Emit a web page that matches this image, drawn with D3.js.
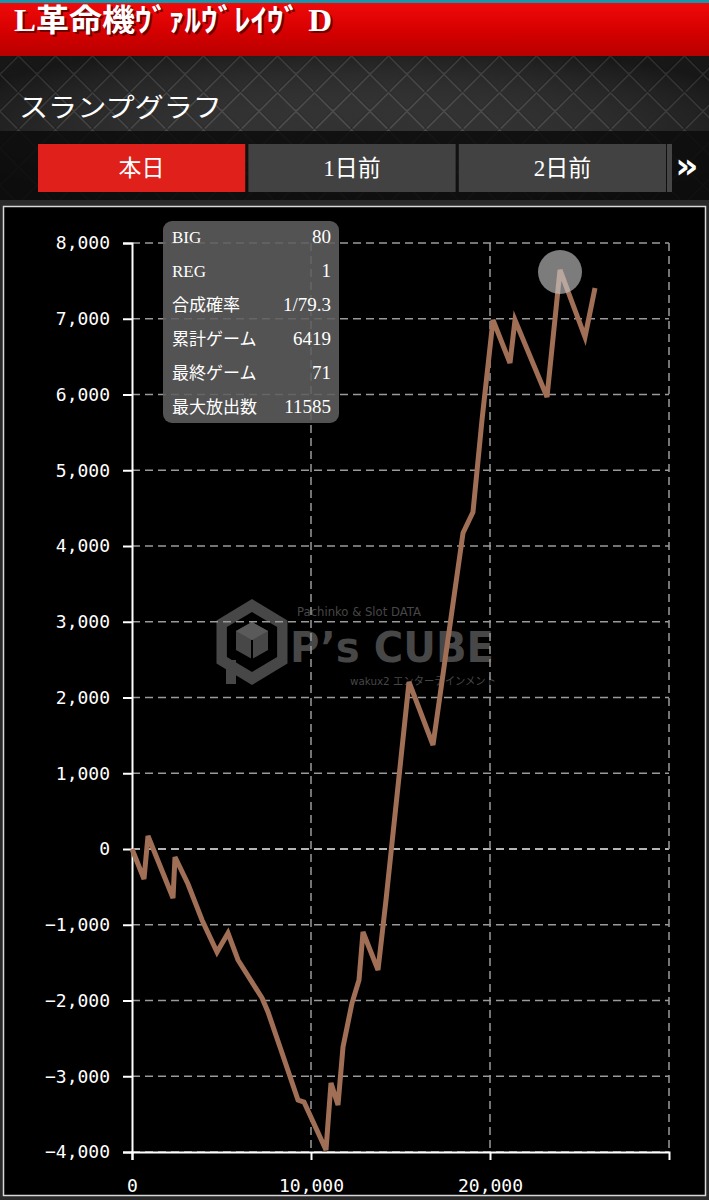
<!DOCTYPE html>
<html>
<head>
<meta charset="utf-8">
<script src="https://cdn.jsdelivr.net/npm/d3@7"></script>
<style>
body { margin: 0; background: #000; }
svg { display: block; }
</style>
</head>
<body>
<div id="graph"></div>
<script>
// slump data: games played vs. medal difference
var games = [0, 670, 894, 2291, 2402, 3128, 3911, 4749, 5363, 5922, 7263, 7598, 8268, 9274, 9609,
  10838, 11117, 11508, 11788, 12291, 12682, 12905, 13743, 14190, 15475, 16816, 18492, 19050,
  19553, 20168, 21117, 21397, 23184, 23911, 25307, 25866];
var diff = [0, -396, 172, -647, -106, -462, -937, -1360, -1109, -1465, -1967, -2152, -2614, -3314, -3340,
  -3974, -3089, -3380, -2614, -2033, -1729, -1096, -1597, -673, 2205, 1373, 4172, 4449,
  5663, 6983, 6416, 6983, 5967, 7644, 6759, 7406];

var xTicks = [0, 10000, 20000];
var yTicks = [-4000, -3000, -2000, -1000, 0, 1000, 2000, 3000, 4000, 5000, 6000, 7000, 8000];

var statLabels = ["BIG", "REG", "合成確率", "累計ゲーム", "最終ゲーム", "最大放出数"];
var statValues = ["80", "1", "1/79.3", "6419", "71", "11585"];

var tabs = ["本日", "1日前", "2日前"];
var title = "L革命機ｳﾞｧﾙｳﾞﾚｲｳﾞ D";
var subtitle = "スランプグラフ";

var width = 709, height = 1200;
var serif = "'Liberation Serif', 'DejaVu Serif', 'Noto Sans CJK JP', serif";
var mono = "'DejaVu Sans Mono', monospace";

var svg = d3.select("#graph").append("svg")
    .attr("width", width)
    .attr("height", height);

var defs = svg.append("defs");

// diamond plate texture for the header
var pat = defs.append("pattern")
    .attr("id", "plate")
    .attr("patternUnits", "userSpaceOnUse")
    .attr("width", 37).attr("height", 37);
pat.append("rect").attr("width", 37).attr("height", 37).attr("fill", "#1f1f1f");
pat.append("path")
    .attr("d", "M0,0L37,37M37,0L0,37")
    .attr("stroke", "#3b3b3b").attr("stroke-width", 2);
pat.append("path")
    .attr("d", "M1.5,0L37,35.5M35.5,0L0,35.5")
    .attr("stroke", "#101010").attr("stroke-width", 1);

var redGrad = defs.append("linearGradient")
    .attr("id", "red").attr("x1", 0).attr("y1", 0).attr("x2", 0).attr("y2", 1);
redGrad.append("stop").attr("offset", "0%").attr("stop-color", "#f00a0a");
redGrad.append("stop").attr("offset", "55%").attr("stop-color", "#d50000");
redGrad.append("stop").attr("offset", "100%").attr("stop-color", "#b80000");

var shine = defs.append("radialGradient").attr("id", "shine")
    .attr("cx", 0.5).attr("cy", 0.5).attr("r", 0.6);
shine.append("stop").attr("offset", "0%").attr("stop-color", "#fff").attr("stop-opacity", 0.08);
shine.append("stop").attr("offset", "100%").attr("stop-color", "#000").attr("stop-opacity", 0.25);

// header
svg.append("rect").attr("width", width).attr("height", 205).attr("fill", "url(#plate)");
svg.append("rect").attr("y", 55).attr("width", width).attr("height", 150).attr("fill", "url(#shine)");
svg.append("rect").attr("width", width).attr("height", 3).attr("fill", "#1796ad");
svg.append("rect").attr("y", 3).attr("width", width).attr("height", 53).attr("fill", "url(#red)");

svg.append("text")
    .attr("x", 16).attr("y", 33)
    .attr("font-family", serif)
    .attr("font-size", 31)
    .attr("font-weight", "bold")
    .attr("fill", "#000").attr("opacity", 0.5)
    .attr("textLength", 318).attr("lengthAdjust", "spacingAndGlyphs")
    .text(title);
svg.append("text")
    .attr("x", 14).attr("y", 31)
    .attr("font-family", serif)
    .attr("font-size", 31)
    .attr("font-weight", "bold")
    .attr("fill", "#fff")
    .attr("textLength", 318).attr("lengthAdjust", "spacingAndGlyphs")
    .text(title);

svg.append("text")
    .attr("x", 19).attr("y", 117)
    .attr("font-family", serif)
    .attr("font-size", 26)
    .attr("fill", "#fff")
    .attr("textLength", 203).attr("lengthAdjust", "spacingAndGlyphs")
    .text(subtitle);

// tab bar
svg.append("rect").attr("y", 131).attr("width", width).attr("height", 74)
    .attr("fill", "#0c0c0c").attr("opacity", 0.85);

var tabX = d3.scaleBand().domain(tabs).range([38, 666]).paddingInner(0.015);
var tab = svg.append("g").selectAll("g")
    .data(tabs)
    .enter().append("g");
tab.append("rect")
    .attr("x", d => tabX(d))
    .attr("y", 144)
    .attr("width", tabX.bandwidth())
    .attr("height", 48)
    .attr("fill", (d, i) => i == 0 ? "#e0201a" : "#464646")
    .attr("opacity", (d, i) => i == 0 ? 1 : 0.92);
tab.append("text")
    .attr("x", d => tabX(d) + tabX.bandwidth() / 2)
    .attr("y", 176)
    .attr("text-anchor", "middle")
    .attr("font-family", serif)
    .attr("font-size", 23)
    .attr("fill", "#fff")
    .text(d => d);
svg.append("rect").attr("x", 667).attr("y", 144).attr("width", 5).attr("height", 48).attr("fill", "#464646");
svg.append("text")
    .attr("x", 687).attr("y", 178)
    .attr("text-anchor", "middle")
    .attr("font-family", "'DejaVu Sans', sans-serif")
    .attr("font-weight", "bold")
    .attr("font-size", 36)
    .attr("fill", "#fff")
    .text("»");

// chart frame
svg.append("rect").attr("y", 200).attr("width", width).attr("height", 1000).attr("fill", "#2a2a2a");
svg.append("rect")
    .attr("x", 3.5).attr("y", 206.5)
    .attr("width", 702).attr("height", 989)
    .attr("fill", "#000")
    .attr("stroke", "#d8d8d8").attr("stroke-width", 1.5);

var x = d3.scaleLinear().domain([0, 30000]).range([132, 669]);
var y = d3.scaleLinear().domain([-4000, 8000]).range([1152, 243]);

// watermark
var wm = svg.append("g").attr("fill", "#474747");
var hex = d3.range(6).map(function(i) {
  var a = Math.PI / 3 * i - Math.PI / 2;
  return [252 + 41 * Math.cos(a), 642 + 43 * Math.sin(a)];
});
wm.append("path").attr("d", "M" + hex.join("L") + "Z");
var hexIn = d3.range(6).map(function(i) {
  var a = Math.PI / 3 * i - Math.PI / 2;
  return [252 + 29 * Math.cos(a), 642 + 30 * Math.sin(a)];
});
wm.append("path").attr("d", "M" + hexIn.join("L") + "Z").attr("fill", "#000");
wm.append("path").attr("d", "M252,622L268,631L268,650L252,659L236,650L236,631Z");
wm.append("path").attr("d", "M252,622L268,631L252,640L236,631Z").attr("fill", "#5a5a5a");
wm.append("path").attr("d", "M252,640V659").attr("stroke", "#000").attr("stroke-width", 2);
wm.append("rect").attr("x", 226).attr("y", 660).attr("width", 10).attr("height", 24);
wm.append("text")
    .attr("x", 297).attr("y", 616)
    .attr("font-family", "'DejaVu Sans', sans-serif")
    .attr("font-size", 12)
    .attr("textLength", 124).attr("lengthAdjust", "spacingAndGlyphs")
    .text("Pachinko & Slot DATA");
wm.append("text")
    .attr("x", 290).attr("y", 662)
    .attr("font-family", "'DejaVu Sans', sans-serif")
    .attr("font-weight", "bold")
    .attr("font-size", 42)
    .attr("textLength", 204).attr("lengthAdjust", "spacingAndGlyphs")
    .text("P’s CUBE");
wm.append("text")
    .attr("x", 350).attr("y", 685)
    .attr("font-family", "'DejaVu Sans', 'Noto Sans CJK JP', sans-serif")
    .attr("font-size", 11)
    .attr("textLength", 146).attr("lengthAdjust", "spacingAndGlyphs")
    .text("wakux2 エンターテインメント");

// grid
var grid = svg.append("g").attr("stroke-width", 1.5).attr("stroke-dasharray", "8,5");
grid.selectAll("line.h")
    .data(yTicks)
    .enter().append("line")
      .attr("class", "h")
      .attr("x1", x(0)).attr("x2", x(30000))
      .attr("y1", d => y(d)).attr("y2", d => y(d))
      .attr("stroke", d => d == 0 ? "#f0f0f0" : "#9a9a9a");
grid.selectAll("line.v")
    .data(xTicks.slice(1).concat([30000]))
    .enter().append("line")
      .attr("class", "v")
      .attr("x1", d => x(d)).attr("x2", d => x(d))
      .attr("y1", y(8000)).attr("y2", y(-4000))
      .attr("stroke", "#9a9a9a");

// axes
var yAxis = svg.append("g")
    .attr("transform", "translate(" + x(0) + ",0)")
    .call(d3.axisLeft(y).tickValues(yTicks).tickFormat(d3.format(",")).tickSize(9).tickPadding(13));
var xAxis = svg.append("g")
    .attr("transform", "translate(0," + y(-4000) + ")")
    .call(d3.axisBottom(x).tickValues(xTicks).tickFormat(d3.format(",")).tickSize(8).tickPadding(19));
[yAxis, xAxis].forEach(function(ax) {
  ax.selectAll("path, line").attr("stroke", "#fff").attr("stroke-width", 2);
  ax.selectAll("text")
      .attr("fill", "#fff")
      .attr("font-family", mono)
      .attr("font-size", 18);
});

// slump line
var pts = games.map((g, i) => [g, diff[i]]);
svg.append("path")
    .datum(pts)
    .attr("fill", "none")
    .attr("stroke", "#a06f55")
    .attr("stroke-width", 5)
    .attr("stroke-linejoin", "miter")
    .attr("d", d3.line().x(d => x(d[0])).y(d => y(d[1])));

// stats box
var box = svg.append("g").attr("transform", "translate(163,221)");
box.append("rect")
    .attr("width", 176).attr("height", 202)
    .attr("rx", 9)
    .attr("fill", "#5e5e5e").attr("opacity", 0.88);
var row = box.selectAll("g.row")
    .data(statLabels)
    .enter().append("g")
      .attr("class", "row")
      .attr("transform", (d, i) => "translate(0," + (22 + i * 34) + ")");
row.append("text")
    .attr("x", 9)
    .attr("font-family", serif)
    .attr("font-size", 17)
    .attr("fill", "#fff")
    .text(d => d);
row.append("text")
    .attr("x", 168)
    .attr("text-anchor", "end")
    .attr("font-family", serif)
    .attr("font-size", 19)
    .attr("fill", "#fff")
    .text((d, i) => statValues[i]);

// highlight at peak
var iMax = d3.maxIndex(diff);
svg.append("circle")
    .attr("cx", x(games[iMax]))
    .attr("cy", y(diff[iMax]) + 2)
    .attr("r", 22)
    .attr("fill", "#c8c8c8")
    .attr("opacity", 0.62);
</script>
</body>
</html>
